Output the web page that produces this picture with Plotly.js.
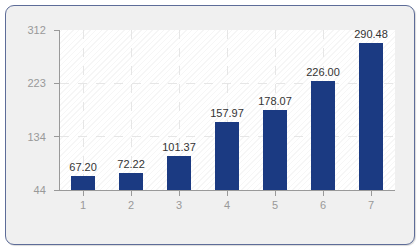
<!DOCTYPE html>
<html>
<head>
<meta charset="utf-8">
<script src="https://cdn.plot.ly/plotly-3.0.1.min.js"></script>
<style>
html,body{margin:0;padding:0;background:#ffffff;}
#wrap{position:absolute;left:5px;top:5px;width:408px;height:238px;border:1px solid #5d6c98;border-radius:9px;background:#f0f0f0;box-shadow:1px 1px 1px rgba(0,0,0,0.15);}
#hatch{position:absolute;left:60px;top:30px;width:335px;height:160px;background-color:#ffffff;
background-image:repeating-linear-gradient(-45deg, rgba(0,0,0,0.035) 0px, rgba(0,0,0,0.035) 1px, transparent 1px, transparent 4px);}
#chart{position:absolute;left:0;top:0;width:420px;height:250px;}
</style>
</head>
<body>
<div id="wrap"></div>
<div id="hatch"></div>
<div id="chart"></div>
<script>
const categories = [1, 2, 3, 4, 5, 6, 7];
const values = [67.20, 72.22, 101.37, 157.97, 178.07, 226.00, 290.48];
const yTickVals = [44, 133.33, 222.67, 312];
const yTickText = ['44', '134', '223', '312'];

const trace = {
  type: 'bar',
  x: categories,
  y: values,
  width: 0.5,
  marker: {color: '#1b3a82'},
  text: values.map(v => v.toFixed(2)),
  textposition: 'outside',
  constraintext: 'none',
  cliponaxis: false,
  textfont: {family: 'Liberation Sans, Arial, sans-serif', size: 11, color: '#333333'},
  hoverinfo: 'none'
};

const layout = {
  width: 420, height: 250,
  margin: {l: 60, r: 25, t: 30, b: 60, pad: 0},
  paper_bgcolor: 'rgba(0,0,0,0)',
  plot_bgcolor: 'rgba(0,0,0,0)',
  showlegend: false,
  bargap: 0,
  xaxis: {
    range: [0.52, 7.5],
    tickvals: categories,
    ticktext: categories.map(String),
    showline: true, linecolor: '#999999', linewidth: 1,
    ticks: 'outside', ticklen: 5, tickcolor: '#999999',
    showgrid: true, gridcolor: '#e6e6e6', griddash: 'dash', gridwidth: 1,
    zeroline: false,
    tickfont: {family: 'Liberation Sans, Arial, sans-serif', size: 11, color: '#999999'}
  },
  yaxis: {
    range: [44, 312],
    tickvals: yTickVals,
    ticktext: yTickText,
    showline: true, linecolor: '#999999', linewidth: 1,
    ticks: 'outside', ticklen: 5, tickcolor: '#999999',
    showgrid: true, gridcolor: '#e6e6e6', griddash: 'dash', gridwidth: 1,
    zeroline: false,
    ticklabelstandoff: 6,
    tickfont: {family: 'Liberation Sans, Arial, sans-serif', size: 11, color: '#999999'}
  }
};

Plotly.newPlot('chart', [trace], layout, {displayModeBar: false, staticPlot: true});
</script>
</body>
</html>
